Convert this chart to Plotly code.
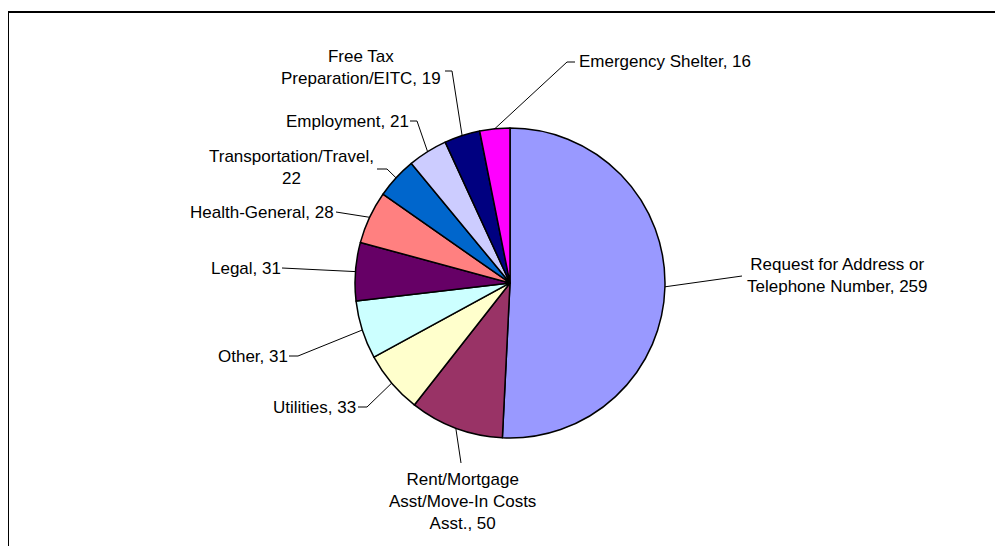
import math
import plotly.graph_objects as go

# ---- data ----
categories = [
    "Request for Address or Telephone Number",
    "Rent/Mortgage Asst/Move-In Costs Asst.",
    "Utilities",
    "Other",
    "Legal",
    "Health-General",
    "Transportation/Travel",
    "Employment",
    "Free Tax Preparation/EITC",
    "Emergency Shelter",
]
values = [259, 50, 33, 31, 31, 28, 22, 21, 19, 16]
label_lines = [
    ["Request for Address or", "Telephone Number, {v}"],
    ["Rent/Mortgage", "Asst/Move-In Costs", "Asst., {v}"],
    ["Utilities, {v}"],
    ["Other, {v}"],
    ["Legal, {v}"],
    ["Health-General, {v}"],
    ["Transportation/Travel,", "{v}"],
    ["Employment, {v}"],
    ["Free Tax", "Preparation/EITC, {v}"],
    ["Emergency Shelter, {v}"],
]
colors = ["#9999FF", "#993366", "#FFFFCC", "#CCFFFF", "#660066",
          "#FF8080", "#0066CC", "#CCCCFF", "#000080", "#FF00FF"]

# ---- layout (pixel geometry, page coordinates; page shows figure offset by body margin) ----
W, H = 1003, 546
OX, OY = 8, 8
CX, CY, R = 510 - OX, 283 - OY, 155
FONT = dict(family="Liberation Sans, Arial, sans-serif", size=17, color="black")
# per label: text anchor (x, y, xanchor) and leader-line points after the slice edge
label_layout = [
    dict(x=837, y=275, xa="center", pts=[(742, 276)]),
    dict(x=462, y=501, xa="center", pts=[(461, 463)]),
    dict(x=357, y=407, xa="right", pts=[(367, 407), (358, 407)]),
    dict(x=289, y=356, xa="right", pts=[(298, 356), (289, 356)]),
    dict(x=282, y=268, xa="right", pts=[(282, 268)]),
    dict(x=335, y=212, xa="right", pts=[(336, 212)]),
    dict(x=291, y=167, xa="center", pts=[(387, 169), (377, 169)]),
    dict(x=410, y=121, xa="right", pts=[(417, 121), (410, 121)]),
    dict(x=361, y=67, xa="center", pts=[(452, 71), (445, 71)]),
    dict(x=578, y=61, xa="left", pts=[(567, 62), (575, 62)]),
]

fig = go.Figure()
fig.add_trace(go.Pie(
    labels=categories, values=values, sort=False, direction="clockwise",
    rotation=0, textinfo="none", hoverinfo="label+value",
    marker=dict(colors=colors, line=dict(color="black", width=1.5)),
    domain=dict(x=[(CX - R) / W, (CX + R) / W],
                y=[(H - CY - R) / H, (H - CY + R) / H]),
    showlegend=False,
))

total = sum(values)
cum = 0
shapes = []
annotations = []
for v, lines, lay in zip(values, label_lines, label_layout):
    frac = (cum + v / 2) / total
    cum += v
    th = 2 * math.pi * frac
    ex, ey = CX + R * math.sin(th), CY - R * math.cos(th)
    pts = [(ex, ey)] + [(px - OX, py - OY) for px, py in lay["pts"]]
    path = "M " + " L ".join(f"{px:.1f},{py:.1f}" for px, py in pts)
    shapes.append(dict(type="path", path=path, xref="x", yref="y",
                       line=dict(color="black", width=1), layer="above"))
    annotations.append(dict(
        x=lay["x"] - OX, y=lay["y"] - OY, xref="x", yref="y",
        text="<br>".join(l.format(v=v) for l in lines),
        showarrow=False, xanchor=lay["xa"], yanchor="middle",
        align="center", font=FONT, borderpad=0,
    ))

# outer frame (top and left edges visible)
shapes.append(dict(type="line", xref="x", yref="y", x0=7 - OX + 1, y0=12 - OY,
                   x1=W + 10, y1=12 - OY, line=dict(color="black", width=2)))
shapes.append(dict(type="line", xref="x", yref="y", x0=7 - OX + 1, y0=12 - OY,
                   x1=7 - OX + 1, y1=H + 10, line=dict(color="black", width=2)))

fig.update_layout(
    width=W, height=H,
    margin=dict(l=0, r=0, t=0, b=0),
    paper_bgcolor="white", plot_bgcolor="rgba(0,0,0,0)",
    xaxis=dict(range=[0, W], visible=False, domain=[0, 1], fixedrange=True),
    yaxis=dict(range=[H, 0], visible=False, domain=[0, 1], fixedrange=True),
    shapes=shapes, annotations=annotations,
)

fig.write_html("out.html")
